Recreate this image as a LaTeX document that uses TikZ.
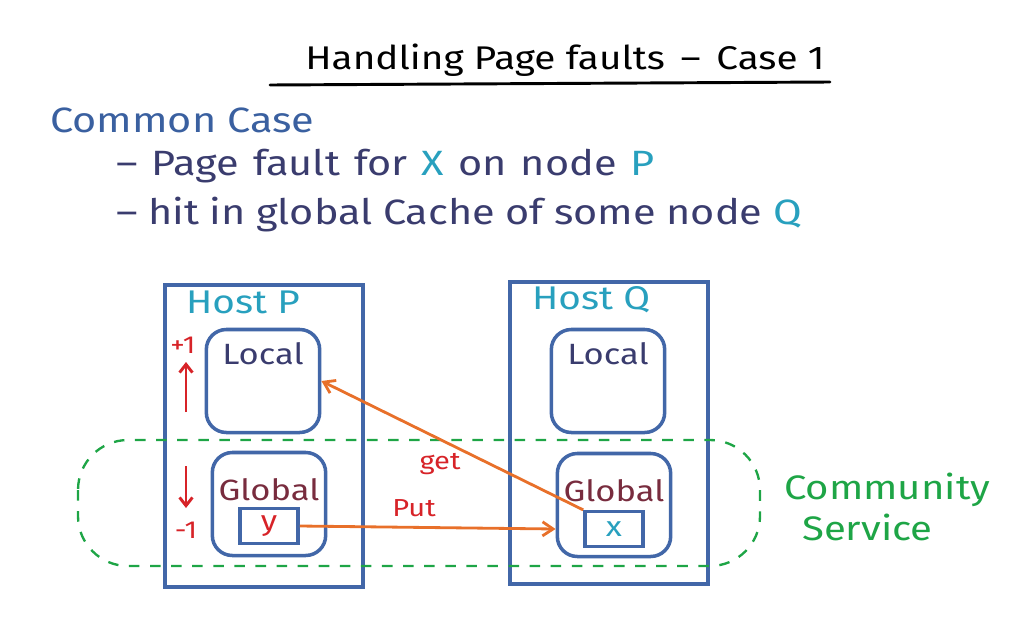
\documentclass[tikz,border=0pt]{standalone}
\usepackage{fontspec}
\setmainfont{Fira Sans}
\newfontfamily\hand[FakeStretch=1.18]{Fira Sans}
\usetikzlibrary{positioning,arrows.meta}
\definecolor{boxblue}{RGB}{66,103,168}
\definecolor{headblue}{RGB}{58,96,160}
\definecolor{inkteal}{RGB}{40,160,190}
\definecolor{inknavy}{RGB}{58,60,110}
\definecolor{inkmaroon}{RGB}{120,44,62}
\definecolor{inkred}{RGB}{215,35,40}
\definecolor{inkgreen}{RGB}{30,165,70}
\definecolor{inkorange}{RGB}{232,112,42}
\newcommand*{\tl}[1]{\textcolor{inkteal}{#1}}
\newcommand*{\fs}[1]{\fontsize{#1}{#1}\selectfont}

\begin{document}
\begin{tikzpicture}[x=0.03cm,y=-0.03cm,
  hostbox/.style={draw=boxblue,line width=3pt,minimum width=5.94cm,minimum height=9.06cm},
  cachebox/.style={draw=boxblue,line width=3pt,rounded corners=0.6cm,minimum width=3.4cm,minimum height=3.09cm},
  pagebox/.style={draw=boxblue,line width=3pt,minimum width=1.74cm,minimum height=1.04cm,
    font=\hand\fs{24},text=inkred},
  hostlbl/.style={font=\hand\fs{28},text=inkteal},
  cachelbl/.style={font=\hand\fs{25}},
  msg/.style={draw=inkorange,line width=2.4pt,-{Straight Barb[length=9pt,width=12pt]}},
  tally/.style={font=\hand\fs{21},text=inkred},
  count/.style={draw=inkred,line width=2.5pt,-{Straight Barb[length=7pt,width=11pt]}}]
% Frame of the page
\useasboundingbox (0,0) rectangle (1018,641);
% Title and its underline
\node[font=\hand\fs{28}] (title) at (565,60) {Handling Page faults \,\textendash\, Case 1};
\coordinate (ulstart) at (270,85);
\coordinate (ulend) at (830,82);
\draw[line width=2.5pt,line cap=round] (ulstart) -- (ulend);
% Heading and the two points
\node[anchor=west,font=\hand\fs{30},text=headblue] (common) at (46,120) {Common Case};
\node[anchor=west,font=\hand\fs{30},text=inknavy] (pointa) at (112,166)
  {\spaceskip=0.4em\relax\textendash\ Page fault for \tl{X} on node \tl{P}};
\node[anchor=west,font=\hand\fs{30},text=inknavy] (pointb) at (112,215)
  {\spaceskip=0.3em\relax\textendash\ hit in global Cache of some node \tl{Q}};
% Host P
\node[hostbox] (hostp) at (264,436) {};
\node[hostlbl,anchor=west] (hostplbl) at (182,302) {Host P};
\node[cachebox] (localp) at (263,381) {};
\node[cachelbl,text=inknavy,below=9pt of localp.north] (localplbl) {Local};
\node[cachebox] (globalp) at (269,504) {};
\node[cachelbl,text=inkmaroon,below=20pt of globalp.north] (globalplbl) {Global};
\node[pagebox] (pagey) at (269,526) {y};
% Host Q
\node[hostbox] (hostq) at (609,433) {};
\node[hostlbl,anchor=west] (hostqlbl) at (528,300) {Host Q};
\node[cachebox] (localq) at (608,381) {};
\node[cachelbl,text=inknavy,below=9pt of localq.north] (localqlbl) {Local};
\node[cachebox] (globalq) at (614,505) {};
\node[cachelbl,text=inkmaroon,below=20pt of globalq.north] (globalqlbl) {Global};
\node[pagebox,text=inkteal] (pagex) at (614,529) {x};
% Community service boundary
\draw[inkgreen,line width=2pt,dash pattern=on 9pt off 9pt,rounded corners=1.5cm]
  (78,440) rectangle (760,566);
\node[anchor=west,font=\hand\fs{29},text=inkgreen] (commlbl) at (780,490) {Community};
\node[anchor=west,font=\hand\fs{29},text=inkgreen] (servlbl) at (798,527) {Service};
% Counters on the left of host P
\node[tally] (plusone) at (183,345) {+1};
\coordinate (upfrom) at (186,412);
\coordinate (upto) at (186,362);
\draw[count] (upfrom) -- (upto);
\coordinate (downfrom) at (186,466);
\coordinate (downto) at (186,508);
\draw[count] (downfrom) -- (downto);
\node[tally] (minusone) at (186,530) {-1};
% Messages between the hosts
\draw[msg] (pagex.north west) -- (localp.east);
\node[tally] (getlbl) at (440,464) {get};
\draw[msg] (pagey.east) -- (globalq.west|-pagex.west);
\node[tally] (putlbl) at (414,508) {Put};
\end{tikzpicture}
\end{document}
